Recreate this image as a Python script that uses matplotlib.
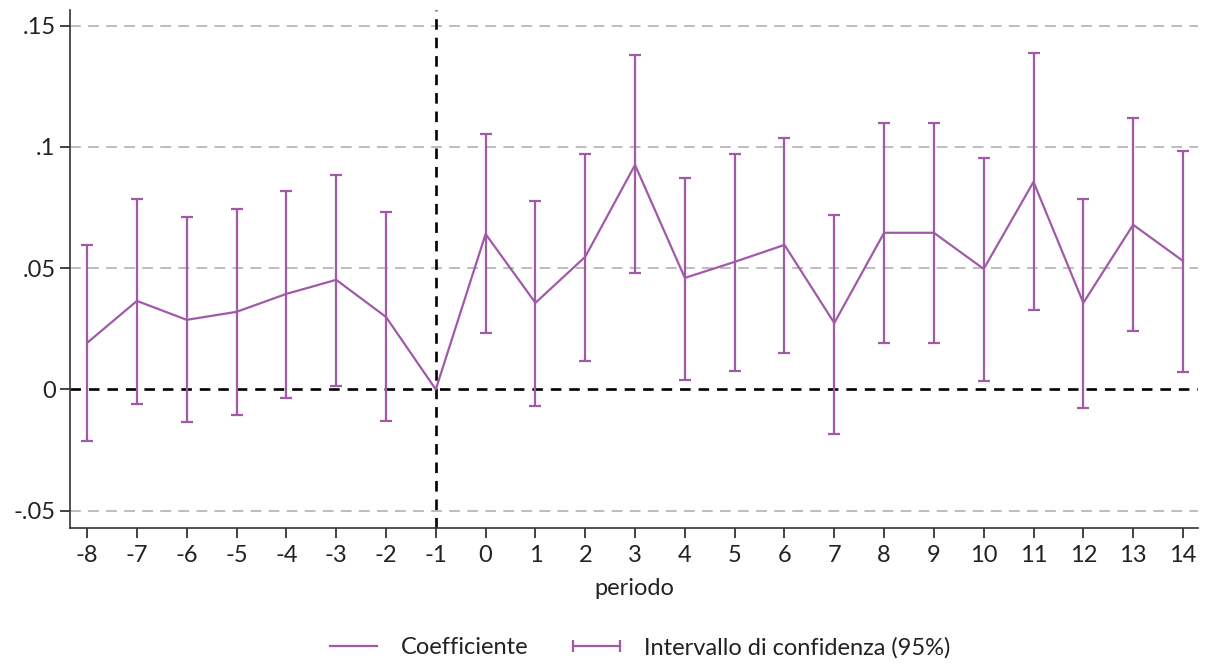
import numpy as np
import matplotlib
matplotlib.use("Agg")
import matplotlib.pyplot as plt
from matplotlib.lines import Line2D

# event-study coefficients
periodo = [-8, -7, -6, -5, -4, -3, -2, -1, 0, 1, 2, 3, 4, 5, 6, 7, 8, 9, 10, 11, 12, 13, 14]
coef = [0.0192, 0.0365, 0.0287, 0.0320, 0.0394, 0.0452, 0.0299, 0.0,
        0.0641, 0.0357, 0.0547, 0.0926, 0.0460, 0.0526, 0.0596, 0.0274,
        0.0646, 0.0646, 0.0497, 0.0856, 0.0357, 0.0679, 0.0530]
ci_low = [-0.0212, -0.0060, -0.0134, -0.0105, -0.0035, 0.0014, -0.0130, np.nan,
          0.0233, -0.0068, 0.0118, 0.0480, 0.0039, 0.0076, 0.0151, -0.0184,
          0.0192, 0.0192, 0.0035, 0.0328, -0.0076, 0.0241, 0.0072]
ci_high = [0.0596, 0.0786, 0.0712, 0.0745, 0.0819, 0.0885, 0.0731, np.nan,
           0.1054, 0.0778, 0.0971, 0.1380, 0.0873, 0.0971, 0.1037, 0.0720,
           0.1099, 0.1099, 0.0955, 0.1388, 0.0786, 0.1120, 0.0984]
yticks = [-0.05, 0, 0.05, 0.1, 0.15]
ytick_labels = ['-.05', '0', '.05', '.1', '.15']

purple = '#a05aa8'
plt.rcParams['font.family'] = ['Lato', 'DejaVu Sans']

fig = plt.figure(figsize=(12.1, 6.64), dpi=100)
ax = fig.add_axes([0.058, 0.205, 0.932, 0.78])

x = np.array(periodo)
c = np.array(coef)
lo = np.array(ci_low)
hi = np.array(ci_high)

for yv in yticks:
    if yv != 0:
        ax.axhline(yv, color='#b8b8b8', lw=1.3, ls=(0, (6, 4)), zorder=0)
ax.axhline(0, color='black', lw=1.9, ls=(0, (4, 3)), zorder=1)
ax.axvline(-1, color='black', lw=1.9, ls=(0, (4, 3)), zorder=1)

mask = ~np.isnan(lo)
ax.errorbar(x[mask], c[mask], yerr=[c[mask] - lo[mask], hi[mask] - c[mask]],
            fmt='none', ecolor=purple, elinewidth=1.6, capsize=4, capthick=1.6, zorder=2)
ax.plot(x, c, color=purple, lw=1.6, zorder=3)

ax.set_xlim(-8.34, 14.3)
ax.set_ylim(-0.0571, 0.1565)
ax.set_xticks(periodo)
ax.set_xticklabels([str(p) for p in periodo])
ax.set_yticks(yticks)
ax.set_yticklabels(ytick_labels)
ax.tick_params(axis='both', labelsize=17, colors='#222222', length=7, width=1.2, direction='out')
ax.tick_params(axis='x', pad=5)
ax.spines['top'].set_visible(False)
ax.spines['right'].set_visible(False)
ax.spines['left'].set_color('#333333')
ax.spines['bottom'].set_color('#333333')
ax.spines['left'].set_linewidth(1.2)
ax.spines['bottom'].set_linewidth(1.2)
ax.set_xlabel('periodo', fontsize=17, color='#222222', labelpad=9)

handles = [Line2D([], [], color=purple, lw=1.6),
           Line2D([], [], color=purple, lw=1.6, marker='|', markersize=9, markeredgewidth=1.6)]
fig.legend(handles, ['Coefficiente', 'Intervallo di confidenza (95%)'],
           loc='center', bbox_to_anchor=(0.526, 0.025), ncol=2, frameon=False,
           fontsize=17, numpoints=2, handlelength=2.6, handletextpad=0.7,
           columnspacing=1.6, labelcolor='#222222')

fig.savefig('out.png', dpi=100)
